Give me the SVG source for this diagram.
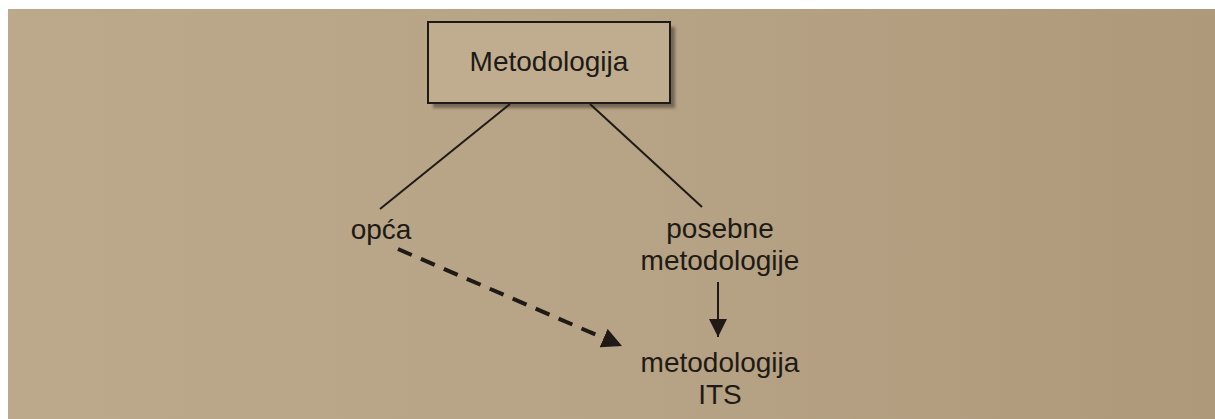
<svg xmlns="http://www.w3.org/2000/svg" width="1215" height="419" viewBox="0 0 1215 419">
  <defs>
    <linearGradient id="paper" x1="0" y1="0" x2="1" y2="0">
      <stop offset="0" stop-color="#bca98b"/>
      <stop offset="0.5" stop-color="#b7a385"/>
      <stop offset="1" stop-color="#ae997b"/>
    </linearGradient>
    <filter id="blur" x="-10%" y="-10%" width="120%" height="130%">
      <feGaussianBlur stdDeviation="1.5"/>
    </filter>
    <marker id="head" viewBox="0 0 10 10" refX="10" refY="5" markerWidth="5" markerHeight="5" markerUnits="strokeWidth" orient="auto">
      <path d="M0,0 L10,5 L0,10 Z" fill="#1f1a15"/>
    </marker>
    <marker id="headThin" viewBox="0 0 10 10" refX="10" refY="5" markerWidth="9" markerHeight="9" markerUnits="strokeWidth" orient="auto">
      <path d="M0,0 L10,5 L0,10 Z" fill="#1f1a15"/>
    </marker>
  </defs>
  <style>
    .lbl { font-family: "Liberation Sans", Arial, sans-serif; font-size: 28px; fill: #1f1a15; text-anchor: middle; }
    .ln { stroke: #1f1a15; stroke-width: 2; fill: none; }
  </style>
  <rect x="0" y="0" width="1215" height="419" fill="#ffffff"/>
  <rect x="8" y="9" width="1207" height="410" fill="url(#paper)"/>

  <g id="node-metodologija">
    <rect x="433" y="27" width="242" height="81" fill="#5e5246" opacity="0.75" filter="url(#blur)"/>
    <rect x="428" y="22" width="242" height="81" fill="#c0ad8f" stroke="#1f1a15" stroke-width="2"/>
    <text class="lbl" x="549" y="71">Metodologija</text>
  </g>

  <g id="node-opca">
    <text class="lbl" x="381" y="239">opća</text>
  </g>

  <g id="node-posebne">
    <text class="lbl" x="720" y="238">posebne</text>
    <text class="lbl" x="720" y="270">metodologije</text>
  </g>

  <g id="node-its">
    <text class="lbl" x="720" y="372">metodologija</text>
    <text class="lbl" x="720" y="404">ITS</text>
  </g>

  <g id="connectors">
    <line class="ln" x1="510" y1="104" x2="380" y2="209"/>
    <line class="ln" x1="590" y1="104" x2="702" y2="207"/>
    <line class="ln" x1="718" y1="282" x2="718" y2="337" marker-end="url(#headThin)"/>
    <line x1="398" y1="249" x2="622" y2="346" stroke="#1f1a15" stroke-width="4" stroke-dasharray="15 10" marker-end="url(#head)"/>
  </g>
</svg>
